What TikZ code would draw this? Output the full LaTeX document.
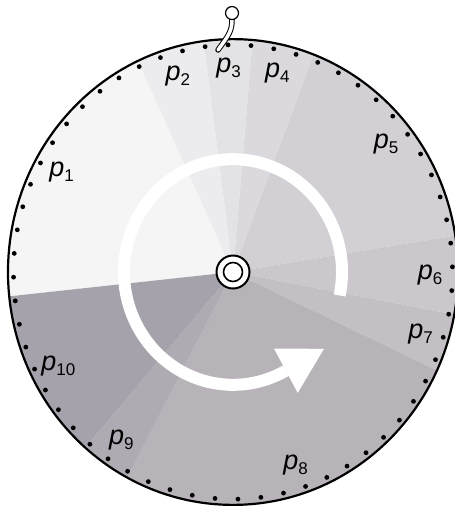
\documentclass[tikz,border=0pt]{standalone}
\usepackage{fontspec}
\setmainfont{Liberation Sans}
\usetikzlibrary{calc}
\definecolor{WheelA}{HTML}{F5F5F5}
\definecolor{WheelB}{HTML}{ECEBED}
\definecolor{WheelC}{HTML}{E3E2E5}
\definecolor{WheelD}{HTML}{DBD9DD}
\definecolor{WheelE}{HTML}{D3D0D5}
\definecolor{WheelF}{HTML}{CBC7CD}
\definecolor{WheelG}{HTML}{C3BFC5}
\definecolor{WheelH}{HTML}{B8B3B9}
\definecolor{WheelI}{HTML}{AFABB3}
\definecolor{WheelJ}{HTML}{A6A2AC}
\newcommand\plab[1]{\textit{p}\raisebox{-5pt}{\fontsize{17}{17}\selectfont #1}}

\begin{document}
\begin{tikzpicture}[x=1pt,y=1.035pt,
  sectorlabel/.style={inner sep=0pt,font=\fontsize{27}{30}\selectfont},
  rimdot/.style={fill=black},
  hubring/.style={draw=black,fill=white}
]
\useasboundingbox (-233,-228) rectangle (221,262.8);
\coordinate (hub) at (0,0);
% sectors and their labels
\foreach \a/\b/\c [count=\i] in {115/186/WheelA,97.5/115/WheelB,85/97.5/WheelC,69/85/WheelD,9/69/WheelE,-10.5/9/WheelF,-25/-10.5/WheelG,-118/-25/WheelH,-131/-118/WheelI,-174/-131/WheelJ}{
  \fill[\c] (hub) -- (\a:225) arc[start angle=\a,end angle=\b,radius=225] -- cycle;
  \node[sectorlabel] (p\i) at ({(\a+\b)/2}:197) {\plab{\i}};
}
% dots along the rim
\foreach \k in {0,...,59}
  \fill[rimdot] ({1.3+6*\k}:219.5) circle[radius=2.4pt];
\draw[line width=2.2pt] (hub) circle[radius=225];
% turning arrow
\draw[white,line width=12pt] (-12:109) arc[start angle=-12,end angle=299,radius=109];
\fill[white] (299:84.5) -- (299:133.5) -- ($(299:109)+(29:43.5)$) -- cycle;
% hub
\draw[hubring,line width=2pt] (hub) circle[radius=16.5pt];
\draw[hubring,line width=1.6pt] (hub) circle[radius=9.5pt];
% pointer
\coordinate (pin) at (-1,250.2);
\draw[line width=1pt,double=white,double distance=3.5pt,line cap=round] (-1,244) .. controls (-1,232) and (-5,228) .. (-15,214.5);
\draw[hubring,line width=1.2pt] (pin) circle[radius=6.5pt];
\end{tikzpicture}
\end{document}
